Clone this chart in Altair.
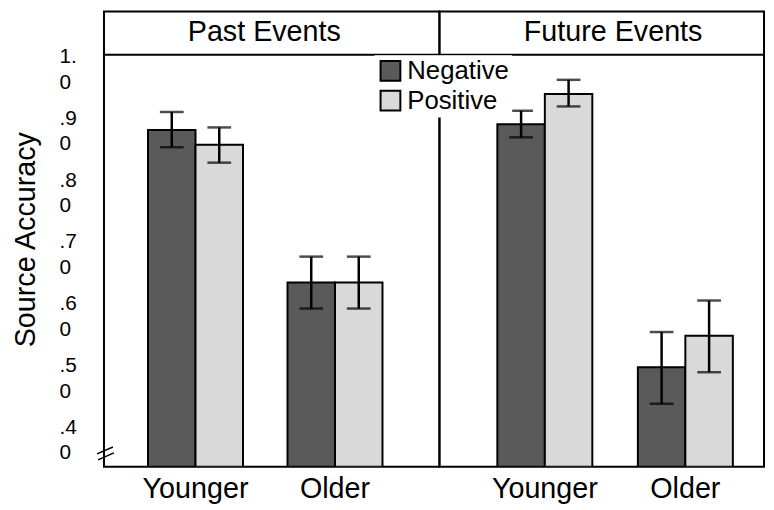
import altair as alt
import pandas as pd

# ---- data ----
periods = ["Past Events", "Past Events", "Past Events", "Past Events",
           "Future Events", "Future Events", "Future Events", "Future Events"]
ages = ["Younger", "Younger", "Older", "Older", "Younger", "Younger", "Older", "Older"]
valences = ["Negative", "Positive"] * 4
means = [0.902, 0.878, 0.655, 0.655, 0.911, 0.960, 0.518, 0.569]
lows = [0.874, 0.849, 0.613, 0.613, 0.890, 0.940, 0.459, 0.510]
highs = [0.931, 0.906, 0.697, 0.697, 0.933, 0.983, 0.575, 0.626]
y_ticks = [0.4, 0.5, 0.6, 0.7, 0.8, 0.9, 1.0]
age_order = ["Younger", "Older"]
valence_order = ["Negative", "Positive"]

df = pd.DataFrame({"period": periods, "age": ages, "valence": valences,
                   "mean": means, "lo": lows, "hi": highs})

FONT = "Liberation Sans"
Y_MIN, Y_MAX = 0.357, 1.0934
H = 460
HEADER_H = 43.7

def panel(name, width, p_inner, p_outer, align, header_x, show_y):
    d = df[df.period == name]
    yscale = alt.Scale(domain=[Y_MIN, Y_MAX], zero=False, nice=False)
    if show_y:
        yaxis = alt.Axis(values=y_ticks,
                         labelExpr="datum.value >= 1 ? ['1.', '0'] : [slice(format(datum.value, '.1f'), 1), '0']",
                         grid=False, ticks=False, domain=False,
                         labelFontSize=21, labelPadding=45.5, labelColor="black",
                         labelAlign="left", labelLineHeight=26, labelBaseline="middle",
                         labelOffset=-13,
                         title="Source Accuracy", titleFontSize=29,
                         titleFontWeight="normal", titleColor="black", titlePadding=19)
    else:
        yaxis = None
    xenc = alt.X("age:N", sort=age_order,
                 scale=alt.Scale(paddingInner=p_inner, paddingOuter=p_outer, align=align),
                 axis=alt.Axis(title=None, labelAngle=0, labelFontSize=29, ticks=False,
                               domain=False, labelPadding=8, labelColor="black"))
    xoff = alt.XOffset("valence:N", sort=valence_order, scale=alt.Scale(paddingInner=0, paddingOuter=0))
    color = alt.Color("valence:N", sort=valence_order,
                      scale=alt.Scale(domain=valence_order, range=["#5a5a5a", "#d9d9d9"]),
                      legend=alt.Legend(title=None, orient="none", legendX=273.5, legendY=44,
                                        symbolType="square", symbolSize=400,
                                        symbolStrokeColor="black", symbolStrokeWidth=2,
                                        symbolOpacity=1,
                                        labelFontSize=26, labelColor="black", labelOffset=4,
                                        rowPadding=2, fillColor="white", padding=3))
    base = alt.Chart(d)
    bars = base.mark_bar(stroke="black", strokeWidth=2, clip=True).encode(
        x=xenc, xOffset=xoff,
        y=alt.Y("mean:Q", scale=yscale, axis=yaxis),
        y2=alt.datum(Y_MIN),
        color=color,
    )
    err = base.mark_rule(color="black", strokeWidth=2.5).encode(
        x=xenc, xOffset=xoff, y=alt.Y("lo:Q", scale=yscale), y2="hi:Q")
    cap_lo = base.mark_tick(color="black", thickness=2.5, size=24).encode(
        x=xenc, xOffset=xoff, y=alt.Y("lo:Q", scale=yscale))
    cap_hi = base.mark_tick(color="black", thickness=2.5, size=24).encode(
        x=xenc, xOffset=xoff, y=alt.Y("hi:Q", scale=yscale))
    hdr = pd.DataFrame({"t": [name]})
    header_text = alt.Chart(hdr).mark_text(fontSize=29, color="black", baseline="middle").encode(
        text="t:N", x=alt.value(header_x), y=alt.value(21))
    header_line = alt.Chart(hdr).mark_rule(color="black", strokeWidth=2).encode(
        x=alt.value(0), x2=alt.value(width), y=alt.value(HEADER_H))
    layers = [bars, err, cap_lo, cap_hi, header_line, header_text]
    if show_y:
        brk1 = alt.Chart(hdr).mark_rule(color="black", strokeWidth=1.5).encode(
            x=alt.value(-7), x2=alt.value(9), y=alt.value(H - 13), y2=alt.value(H - 20))
        brk2 = alt.Chart(hdr).mark_rule(color="black", strokeWidth=1.5).encode(
            x=alt.value(-6), x2=alt.value(10), y=alt.value(H - 7), y2=alt.value(H - 14))
        layers += [brk1, brk2]
    return alt.layer(*layers).properties(width=width, height=H)

left = panel("Past Events", 339, 0.319, 0.362, 0.436, 162, True)
right = panel("Future Events", 328, 0.324, 0.317, 0.65, 175.5, False)

chart = alt.hconcat(left, right, spacing=0).resolve_scale(
    x="independent", xOffset="independent", y="independent"
).properties(
    padding={"left": 2, "top": 0, "right": 0, "bottom": 0},
    bounds="flush",
).configure(font=FONT).configure_view(stroke="black", strokeWidth=2)

chart.save("out.html", embed_options={"renderer": "svg", "actions": False})
